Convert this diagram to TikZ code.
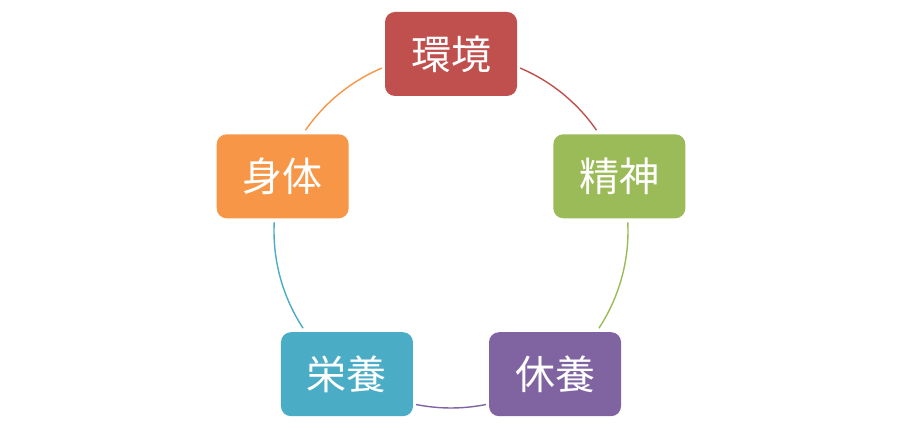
\documentclass[tikz,border=0pt]{standalone}
\usepackage{fontspec}
\newfontfamily\cjk{Noto Sans CJK JP}
\definecolor{cred}{HTML}{C0504D}
\definecolor{cgreen}{HTML}{9BBB59}
\definecolor{cpurple}{HTML}{8064A2}
\definecolor{cblue}{HTML}{4BACC6}
\definecolor{corange}{HTML}{F79646}
\begin{document}
\begin{tikzpicture}[x=1pt,y=1pt,
  cbox/.style={rounded corners=10pt, minimum width=132pt, minimum height=84pt,
    inner sep=0pt, text=white, font=\cjk\fontsize{40}{40}\selectfont},
  carc/.style={line width=1.4pt}]
\useasboundingbox (0,0) rectangle (903,444);
\coordinate (c) at (451,213);
\def\R{177}
\node[cbox, fill=cred]    (env)  at ([shift=(90:\R)]c)   {環境};
\node[cbox, fill=cgreen]  (mind) at ([shift=(18:\R)]c)   {精神};
\node[cbox, fill=cpurple] (rest) at ([shift=(-54:\R)]c)  {休養};
\node[cbox, fill=cblue]   (nutr) at ([shift=(-126:\R)]c) {栄養};
\node[cbox, fill=corange] (body) at ([shift=(162:\R)]c)  {身体};
\draw[carc, cred]    ([shift=(67:\R)]c)    arc[start angle=67,    end angle=34.7,   radius=\R];
\draw[carc, cgreen]  ([shift=(2.8:\R)]c)   arc[start angle=2.8,   end angle=-33.3,  radius=\R];
\draw[carc, cpurple] ([shift=(-78.6:\R)]c) arc[start angle=-78.6, end angle=-101.4, radius=\R];
\draw[carc, cblue]   ([shift=(213.3:\R)]c) arc[start angle=213.3, end angle=177.2,  radius=\R];
\draw[carc, corange] ([shift=(145.3:\R)]c) arc[start angle=145.3, end angle=113,    radius=\R];
\end{tikzpicture}
\end{document}
